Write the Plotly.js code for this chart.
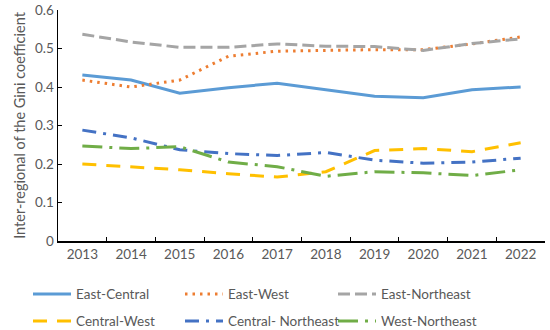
<!DOCTYPE html>
<html><head><meta charset="utf-8">
<script src="https://cdn.plot.ly/plotly-3.0.1.min.js"></script>
<style>body{margin:0;background:#fff}#chart{width:550px;height:330px}</style>
</head><body><div id="chart"></div>
<script>
const years = ["2013","2014","2015","2016","2017","2018","2019","2020","2021","2022"];
const eastCentral = [0.431,0.418,0.384,0.398,0.410,0.393,0.376,0.372,0.393,0.400];
const eastWest = [0.418,0.400,0.418,0.480,0.493,0.495,0.497,0.497,0.512,0.530];
const eastNortheast = [0.537,0.517,0.503,0.503,0.512,0.506,0.505,0.495,0.513,0.525];
const centralWest = [0.200,0.193,0.185,0.175,0.166,0.180,0.235,0.240,0.232,0.255];
const centralNortheast = [0.288,0.268,0.237,0.227,0.222,0.230,0.210,0.202,0.205,0.215];
const westNortheast = [0.247,0.240,0.245,0.205,0.193,0.168,0.180,0.177,0.170,0.185];

const names = ["East-Central","East-West","East-Northeast","Central-West","Central- Northeast","West-Northeast"];
const series = [eastCentral,eastWest,eastNortheast,centralWest,centralNortheast,westNortheast];
const colors = ["#5B9BD5","#ED7D31","#A5A5A5","#FFC000","#4472C4","#70AD47"];
const dashes = ["solid","2.5px,5px","12px,5px","14px,10px","14px,7px,3px,7px","20px,7px,3px,7px"];
const legendIds = ["legend","legend2","legend3","legend4","legend5","legend6"];
const legendX = [-0.0616, 0.2505, 0.5647];
const legendY = [-0.163, -0.28];

const traces = series.map((s,i)=>({
  x: years, y: s, name: names[i], type: "scatter", mode: "lines",
  legend: legendIds[i],
  line: {color: colors[i], width: 3, dash: dashes[i]}
}));

const layout = {
  width: 550, height: 330,
  margin: {l: 58, r: 5, t: 10, b: 89, autoexpand: false},
  paper_bgcolor: "#fff", plot_bgcolor: "#fff",
  font: {family: "Lato, 'Open Sans', sans-serif", size: 13.5, color: "#595959"},
  showlegend: true,
  xaxis: {type: "category", range: [-0.5, 9.5], tickson: "boundaries", ticks: "inside", ticklen: 4,
          tickcolor: "#000", showline: true, linecolor: "#000", linewidth: 1.5,
          showgrid: false, zeroline: false, tickfont: {size: 13.5, color: "#595959"}},
  yaxis: {range: [0, 0.6], dtick: 0.1, ticks: "inside", ticklen: 4, tickcolor: "#000",
          showline: true, linecolor: "#000", linewidth: 1.5, showgrid: false, zeroline: false,
          tickfont: {size: 13.5, color: "#595959"},
          title: {text: "Inter-regional of the Gini coefficient", font: {size: 14.5, color: "#595959"}, standoff: 6}}
};
legendIds.forEach((id,i)=>{
  layout[id] = {orientation: "h", xanchor: "left", yanchor: "top",
    x: legendX[i % 3], y: legendY[Math.floor(i / 3)], itemwidth: 38,
    font: {size: 13.5, color: "#595959"}, bgcolor: "rgba(0,0,0,0)"};
});
Plotly.newPlot("chart", traces, layout, {displayModeBar: false, staticPlot: true});
</script></body></html>
